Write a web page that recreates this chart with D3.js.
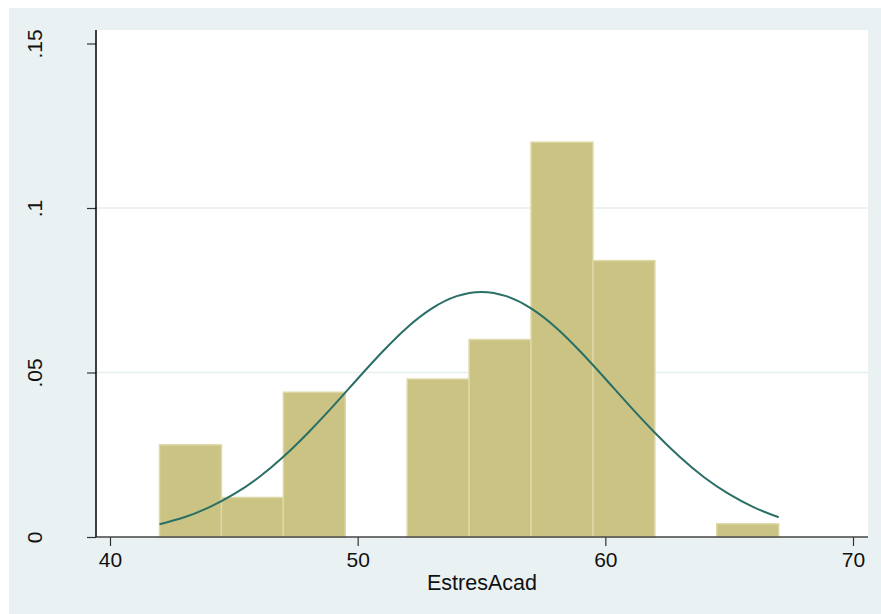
<!DOCTYPE html>
<html>
<head>
<meta charset="utf-8">
<script src="https://cdn.jsdelivr.net/npm/d3@7"></script>
<style>
    body { margin: 0; background: #ffffff; }
    svg { display: block; font-family: "Liberation Sans", Arial, sans-serif; }
</style>
</head>
<body>
<div class="chart"></div>
<script>
// histogram of EstresAcad (density), bin width 2.5
let binStarts = [42, 44.5, 47, 49.5, 52, 54.5, 57, 59.5, 62, 64.5];
let binWidth = 2.5;
let densities = [0.028, 0.012, 0.044, 0, 0.048, 0.06, 0.12, 0.084, 0, 0.004];

// normal density overlay
let curveX = [42, 43, 44, 45, 46, 47, 48, 49, 50, 51, 52, 53, 54, 55,
              56, 57, 58, 59, 60, 61, 62, 63, 64, 65, 66, 67];
let curveY = [0.0039, 0.0060, 0.0090, 0.0130, 0.0181, 0.0244, 0.0317, 0.0397, 0.0481, 0.0563, 0.0637, 0.0695, 0.0732, 0.0745,
              0.0732, 0.0695, 0.0637, 0.0563, 0.0481, 0.0397, 0.0317, 0.0244, 0.0181, 0.0130, 0.0090, 0.0060];

let xTicks = [40, 50, 60, 70];
let yTicks = [0, 0.05, 0.1, 0.15];
let yTickLabels = ["0", ".05", ".1", ".15"];
let gridValues = [0.05, 0.1];
let xTitle = "EstresAcad";

let width = 881, height = 614;
let plot = {left: 96, right: 868, top: 30, bottom: 537};

let svg = d3.select(".chart")
            .append("svg")
            .attr("width", width)
            .attr("height", height);

// outer graph region
svg.append("rect")
   .attr("x", 9)
   .attr("y", 8)
   .attr("width", width - 9)
   .attr("height", height - 8)
   .attr("fill", "#eaf1f3");

svg.append("rect")
   .attr("x", plot.left)
   .attr("y", plot.top)
   .attr("width", plot.right - plot.left)
   .attr("height", plot.bottom - plot.top)
   .attr("fill", "#ffffff");

let xScale = d3.scaleLinear()
               .domain([40, 70])
               .range([110, 853]);

let yScale = d3.scaleLinear()
               .domain([0, 0.15])
               .range([plot.bottom, 43.5]);

// grid
svg.selectAll(".grid")
   .data(gridValues)
   .enter()
   .append("line")
   .attr("class", "grid")
   .attr("x1", plot.left)
   .attr("x2", plot.right)
   .attr("y1", d => yScale(d))
   .attr("y2", d => yScale(d))
   .attr("stroke", "#e6eef0")
   .attr("stroke-width", 1.5);

// bars
let bars = binStarts.map(function(s, i) { return {start: s, value: densities[i]}; })
                    .filter(d => d.value > 0);

svg.selectAll(".bar")
   .data(bars)
   .enter()
   .append("rect")
   .attr("class", "bar")
   .attr("x", d => xScale(d.start))
   .attr("y", d => yScale(d.value))
   .attr("width", d => xScale(d.start + binWidth) - xScale(d.start))
   .attr("height", d => yScale(0) - yScale(d.value))
   .attr("fill", "#cac383")
   .attr("stroke", "#ddd8a4")
   .attr("stroke-width", 1.5);

// normal curve
let line = d3.line()
             .x(function(d, i) { return xScale(curveX[i]); })
             .y(d => yScale(d))
             .curve(d3.curveNatural);

svg.append("path")
   .datum(curveY)
   .attr("d", line)
   .attr("fill", "none")
   .attr("stroke", "#2a6f66")
   .attr("stroke-width", 2);

// axes
let xAxis = d3.axisBottom(xScale)
              .tickValues(xTicks)
              .tickSize(9)
              .tickPadding(6)
              .tickFormat(d3.format("d"));

let gx = svg.append("g")
            .attr("transform", "translate(0," + plot.bottom + ")")
            .call(xAxis);
gx.select(".domain").remove();
gx.append("line")
  .attr("x1", plot.left)
  .attr("x2", plot.right)
  .attr("stroke", "#444444")
  .attr("stroke-width", 1.5);
gx.selectAll(".tick line").attr("stroke", "#333333").attr("stroke-width", 1.2);
gx.selectAll(".tick text")
  .attr("fill", "#111111")
  .style("font-size", "21px")
  .style("font-family", "Liberation Sans, Arial, sans-serif");

let yAxis = d3.axisLeft(yScale)
              .tickValues(yTicks)
              .tickSize(9)
              .tickFormat(function(d, i) { return yTickLabels[i]; });

let gy = svg.append("g")
            .attr("transform", "translate(" + plot.left + ",0)")
            .call(yAxis);
gy.select(".domain").remove();
gy.append("line")
  .attr("y1", plot.top)
  .attr("y2", plot.bottom)
  .attr("stroke", "#000000")
  .attr("stroke-width", 1.5);
gy.selectAll(".tick line").attr("stroke", "#333333").attr("stroke-width", 1.2);
gy.selectAll(".tick text")
  .attr("x", 0)
  .attr("dy", 0)
  .attr("transform", "translate(-54,0) rotate(-90)")
  .style("text-anchor", "middle")
  .attr("fill", "#111111")
  .style("font-size", "21px")
  .style("font-family", "Liberation Sans, Arial, sans-serif");

// axis title
svg.append("text")
   .attr("x", (plot.left + plot.right) / 2)
   .attr("y", 590)
   .style("text-anchor", "middle")
   .style("font-size", "21.5px")
   .attr("fill", "#111111")
   .text(xTitle);
</script>
</body>
</html>
